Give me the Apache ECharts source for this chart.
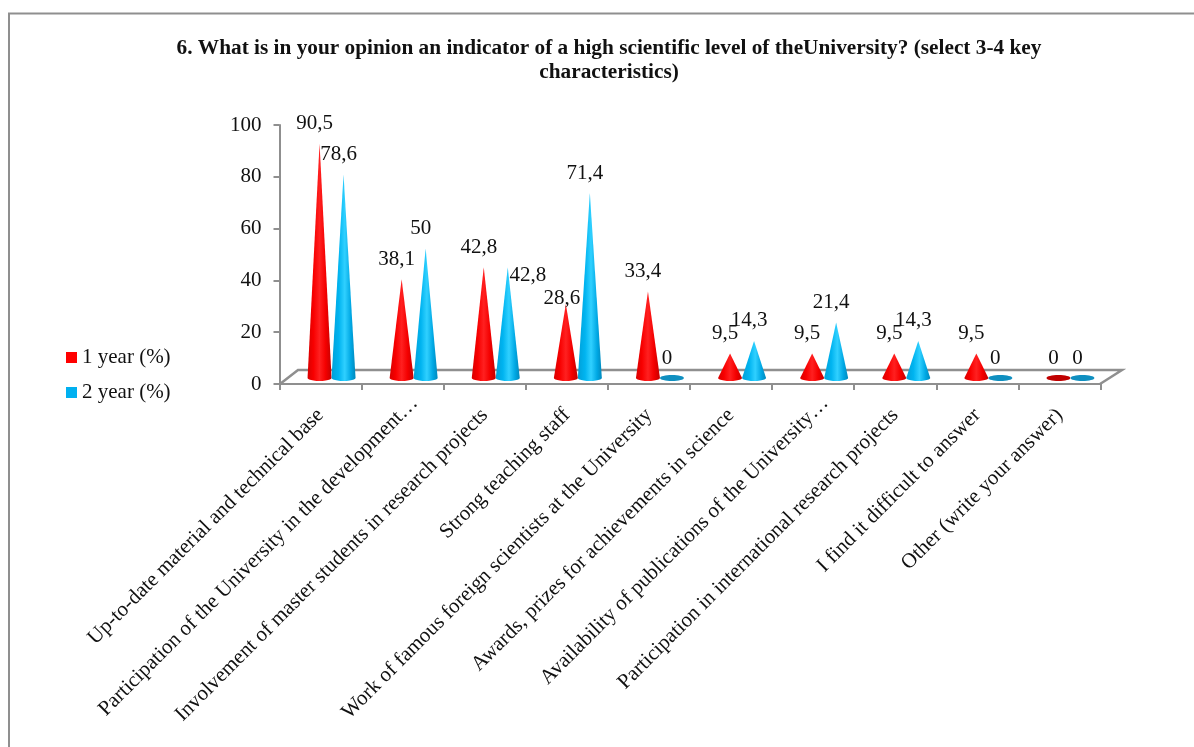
<!DOCTYPE html>
<html><head><meta charset="utf-8">
<style>html,body{margin:0;padding:0;background:#fff}#c{width:1194px;height:747px}</style>
<script src="https://cdn.jsdelivr.net/npm/echarts@6/dist/echarts.min.js"></script>
</head><body><div id="c"></div>
<script>
const titleText = "6. What is in your opinion an indicator of a high scientific level of theUniversity? (select 3-4 key\ncharacteristics)";
const categories = [
  "Up-to-date material and technical base",
  "Participation of the University in the development…",
  "Involvement of master students in research projects",
  "Strong teaching staff",
  "Work of famous foreign scientists at the University",
  "Awards, prizes for achievements in science",
  "Availability of publications of the University…",
  "Participation in international research projects",
  "I find it difficult to answer",
  "Other (write your answer)"
];
const year1 = [90.5, 38.1, 42.8, 28.6, 33.4, 9.5, 9.5, 9.5, 9.5, 0];
const year2 = [78.6, 50, 42.8, 71.4, 0, 14.3, 21.4, 14.3, 0, 0];
const yTicks = {min: 0, max: 100, interval: 20};

const FONT = '"Liberation Serif","Times New Roman",serif';
const GREY = '#8f8f8f';
const DEPTH = 6, HALF = 12, RY = 3;
const nudges = {'1:2': [20, 8], '0:3': [-4, -5]};

function coneSeries(name, values, seriesIdx, xShift, stops, flat, base) {
  const fill = new echarts.graphic.LinearGradient(0, 0, 1, 0, stops);
  return {
    name, type: 'custom', coordinateSystem: 'cartesian2d', z: 3 + seriesIdx,
    itemStyle: {color: base},
    data: values.map((v, i) => [categories[i], v]),
    renderItem(params, api) {
      const i = api.value(0), v = api.value(1);
      const p = api.coord([i, v]), p0 = api.coord([i, 0]);
      const cx = p0[0] + xShift, by = p0[1] - DEPTH, ty = p[1] - DEPTH;
      const children = [];
      if (v > 0) {
        const pts = [[cx, ty]];
        for (let a = 0; a <= 180; a += 15) {
          const r = a * Math.PI / 180;
          pts.push([cx + HALF * Math.cos(r), by + RY * Math.sin(r)]);
        }
        children.push({type: 'polygon', shape: {points: pts}, style: {fill}});
      } else {
        children.push({type: 'ellipse', shape: {cx, cy: by, rx: HALF, ry: RY}, style: {fill: flat}});
      }
      const n = nudges[seriesIdx + ':' + i] || [-5, -20];
      children.push({type: 'text', x: cx + n[0], y: ty + n[1], z2: 10, style: {
        text: String(v).replace('.', ','), fill: '#111', font: '21px ' + FONT,
        align: 'center', verticalAlign: 'middle'}});
      return {type: 'group', children};
    }
  };
}

const chart = echarts.init(document.getElementById('c'));
chart.setOption({
  animation: false,
  backgroundColor: '#fff',
  title: {text: titleText, left: 604, top: 31, textAlign: 'center',
    textStyle: {fontFamily: FONT, fontSize: 21.3, fontWeight: 'bold', color: '#111', lineHeight: 24}},
  legend: {left: 61, top: 342, orient: 'vertical', itemWidth: 11, itemHeight: 11, itemGap: 14,
    icon: 'rect', data: ['1 year (%)', '2 year (%)'],
    textStyle: {fontFamily: FONT, fontSize: 21, color: '#111'}},
  grid: {left: 279.5, top: 125, width: 821, height: 259, containLabel: false},
  xAxis: {type: 'category', data: categories,
    axisLine: {lineStyle: {color: GREY, width: 2}},
    axisTick: {show: true, length: 6, lineStyle: {color: GREY, width: 2}},
    axisLabel: {interval: 0, rotate: 45, color: '#111', margin: 28,
      fontFamily: FONT, fontSize: 21,
      formatter: v => v.endsWith('…') ? '{e|' + v + '}' : v,
      rich: {e: {fontFamily: FONT, fontSize: 21, color: '#111', padding: [0, -17, 0, 0]}}}},
  yAxis: {type: 'value', min: yTicks.min, max: yTicks.max, interval: yTicks.interval,
    axisLine: {show: true, lineStyle: {color: GREY, width: 2}},
    axisTick: {show: true, length: 6, lineStyle: {color: GREY, width: 2}},
    splitLine: {show: false},
    axisLabel: {fontFamily: FONT, fontSize: 21, color: '#111', margin: 18, padding: [6, 0, 0, 0]}},
  graphic: {elements: [
    {type: 'polyline', z: 1, silent: true, shape: {points: [[9, 747], [9, 13.5], [1194, 13.5]]},
      style: {stroke: GREY, lineWidth: 2, fill: null}},
    {type: 'polyline', z: 1, silent: true, shape: {points: [[280, 384], [298, 370], [1122, 370], [1100, 384]]},
      style: {stroke: GREY, lineWidth: 2.5, fill: null}}
  ]},
  series: [
    coneSeries('1 year (%)', year1, 0, -1,
      [{offset: 0, color: '#d80000'}, {offset: .25, color: '#f80000'}, {offset: .5, color: '#ff2020'},
       {offset: .75, color: '#f40000'}, {offset: 1, color: '#c40000'}], '#c00000', '#ff0000'),
    coneSeries('2 year (%)', year2, 1, 23,
      [{offset: 0, color: '#00a0d8'}, {offset: .3, color: '#00b4f0'}, {offset: .55, color: '#30d0ff'},
       {offset: .8, color: '#00a8e4'}, {offset: 1, color: '#0088bc'}], '#0f8fc0', '#00b0f0')
  ]
});
</script></body></html>
